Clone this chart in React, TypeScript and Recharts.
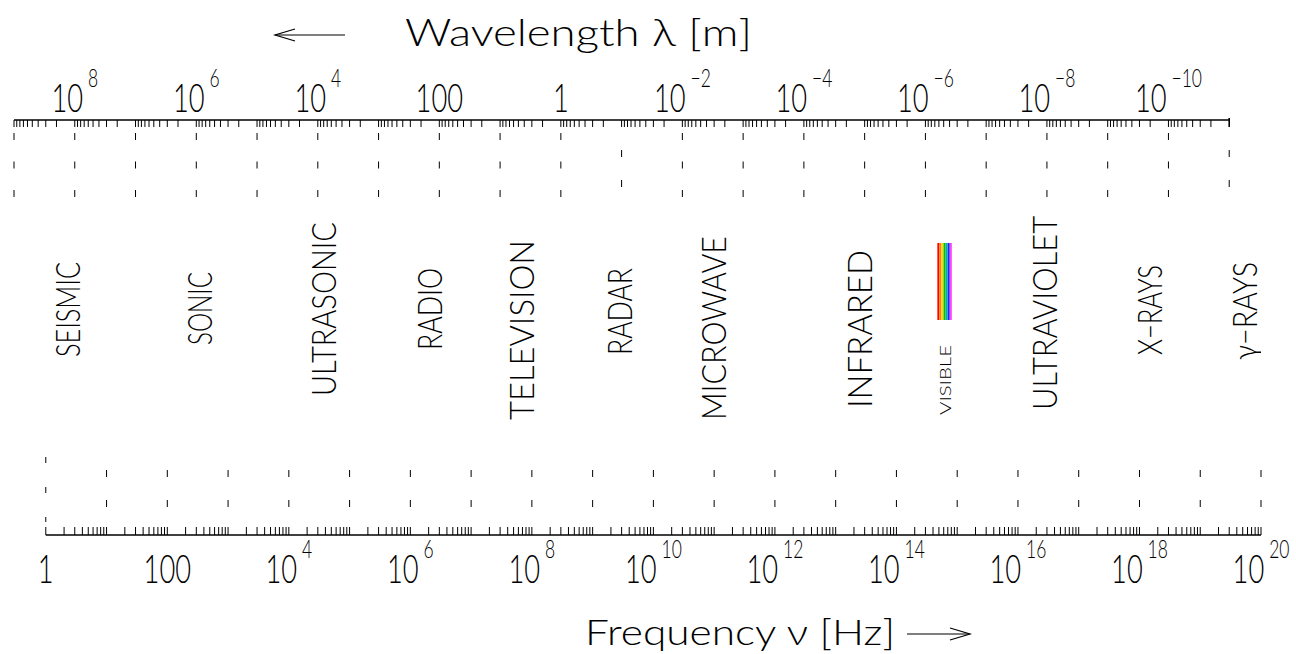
import { ComposedChart, XAxis, YAxis, Scatter, ReferenceLine } from 'recharts'

const C = 2.998e8 // speed of light, m/s

// frequency axis (Hz), bottom
const NU_MIN = C / 1e9
const NU_MAX = 1e20
const NU_LABEL_EXP = [0, 2, 4, 6, 8, 10, 12, 14, 16, 18, 20]

// wavelength axis (m), top
const LAMBDA_FIRST = 1e9
const LAMBDA_LAST = 1e-11
const LAMBDA_LABEL_EXP = [8, 6, 4, 2, 0, -2, -4, -6, -8, -10]
const LAMBDA_SHIFTED = [1e-1, 1e-11]

// spectrum bands, placed at a representative frequency
const BANDS = ['SEISMIC', 'SONIC', 'ULTRASONIC', 'RADIO', 'TELEVISION', 'RADAR', 'MICROWAVE', 'INFRARED', 'VISIBLE', 'ULTRAVIOLET', 'X\u2212RAYS', '\u03b3\u2212RAYS']
const BAND_NU = [2.3, 345, 3.8e4, 2.1e6, 6.9e7, 2.8e9, 1.0e11, 2.5e13, 6.3e14, 2.8e16, 1.5e18, 5.5e19]

// visible light stripes
const VISIBLE_NU = [4.9e14, 5.3e14, 5.75e14, 6.2e14, 6.7e14, 7.25e14, 7.85e14]
const VISIBLE_COLORS = ['#ff0000', '#ff8000', '#e8e000', '#00c000', '#00b0b0', '#2020ff', '#ff40ff']

// layout: plot runs from y=120 (top axis) to y=535 (bottom axis)
const PLOT_H = 415
const frac = (px: number) => (535 - px) / PLOT_H
// vertical extent [top, bottom] of each rotated band label, in px
const LABEL_SPAN: Record<string, [number, number]> = {
  SEISMIC: [262, 357],
  SONIC: [272, 345],
  ULTRASONIC: [222, 396],
  RADIO: [268, 350],
  TELEVISION: [240, 420],
  RADAR: [268, 355],
  MICROWAVE: [236, 420],
  INFRARED: [250, 408],
  VISIBLE: [345, 415],
  ULTRAVIOLET: [216, 410],
  'X\u2212RAYS': [265, 355],
  '\u03b3\u2212RAYS': [262, 360],
}
const RAINBOW_TOP = 243
const RAINBOW_BOTTOM = 320

const FONT = 'Lato, "DejaVu Sans", sans-serif'
const SQUEEZE = 0.7

const decadeTicks = (lo: number, hi: number) => {
  const out: number[] = []
  for (let e = lo; e < hi; e++) for (let m = 1; m <= 9; m++) out.push(m * Math.pow(10, e))
  out.push(Math.pow(10, hi))
  return out
}
const NU_TICKS = decadeTicks(0, 20)
const LAMBDA_TICKS = decadeTicks(-11, 9)

const expOf = (v: number) => {
  const e = Math.log10(v)
  return Math.abs(e - Math.round(e)) < 1e-6 ? Math.round(e) : null
}

const PowerLabel = ({ x, y, exp }: { x: number; y: number; exp: number }) => {
  const main = exp === 0 ? '1' : exp === 2 ? '100' : '10'
  const sup = exp === 0 || exp === 2 ? null : String(exp).replace('-', '\u2212')
  return (
    <g transform={`translate(${x},${y}) scale(${SQUEEZE},1)`}>
      <text x={0} y={0} textAnchor="middle" fontFamily={FONT} fontWeight={300} fontSize={39} fill="#000">
        {main}
        {sup && (
          <tspan dx={7} dy={-25} fontSize={25}>
            {sup}
          </tspan>
        )}
      </text>
    </g>
  )
}

const NuTick = (props: any) => {
  const { x, y, payload } = props
  const e = expOf(payload.value)
  return (
    <g>
      <line x1={x} x2={x} y1={y} y2={y - 8} stroke="#000" />
      {e !== null && e === 0 && (
        <line x1={x} x2={x} y1={y - 78} y2={y - 13} stroke="#000" strokeDasharray="6 24" />
      )}
      {e !== null && e !== 0 && (
        <line x1={x} x2={x} y1={y - 65} y2={y - 28} stroke="#000" strokeDasharray="7 23" />
      )}
      {e !== null && NU_LABEL_EXP.includes(e) && <PowerLabel x={x} y={y + 48} exp={e} />}
    </g>
  )
}

const LambdaTick = (props: any) => {
  const { x, y, payload } = props
  const e = expOf(payload.value)
  const shifted = e !== null && LAMBDA_SHIFTED.some((v) => expOf(v) === e)
  const last = e === Math.round(Math.log10(LAMBDA_LAST))
  return (
    <g>
      <line x1={x} x2={x} y1={last ? y - 2 : y} y2={y + 7} stroke="#000" strokeWidth={last ? 1.6 : 1} />
      {e !== null && !shifted && (
        <line x1={x} x2={x} y1={y + 13} y2={y + 77} stroke="#000" strokeDasharray="7 21.5" />
      )}
      {shifted && <line x1={x} x2={x} y1={y + 30} y2={y + 67} stroke="#000" strokeDasharray="7 23" />}
      {e !== null && LAMBDA_LABEL_EXP.includes(e) && <PowerLabel x={x} y={y - 8} exp={e} />}
    </g>
  )
}

const BandLabel = (props: any) => {
  const { cx, cy, payload } = props
  const [top, bottom] = LABEL_SPAN[payload.name]
  const small = payload.name === 'VISIBLE'
  const fs = small ? 16 : 34
  return (
    <g transform={`translate(${cx},${cy}) rotate(-90)`}>
      <text
        x={0}
        y={fs * 0.36}
        textAnchor="middle"
        textLength={bottom - top}
        lengthAdjust="spacingAndGlyphs"
        fontFamily={FONT}
        fontWeight={300}
        fontSize={fs}
        fill="#000"
      >
        {payload.name}
      </text>
    </g>
  )
}

const TopTitle = () => (
  <g>
    <line x1={275} x2={345} y1={35} y2={35} stroke="#000" strokeWidth={1.2} />
    <polyline points="295,29 275,35 295,41" fill="none" stroke="#000" strokeWidth={1.2} />
    <text x={405} y={46} fontFamily={FONT} fontWeight={300} fontSize={38} textLength={347} lengthAdjust="spacingAndGlyphs" fill="#000">
      Wavelength λ [m]
    </text>
  </g>
)

const BottomTitle = () => (
  <g>
    <text x={585} y={645} fontFamily={FONT} fontWeight={300} fontSize={36} textLength={310} lengthAdjust="spacingAndGlyphs" fill="#000">
      Frequency ν [Hz]
    </text>
    <line x1={907} x2={970} y1={634} y2={634} stroke="#000" strokeWidth={1.2} />
    <polyline points="950,628 970,634 950,640" fill="none" stroke="#000" strokeWidth={1.2} />
  </g>
)

const Nothing = () => <g />

export default function App() {
  const bandData = BANDS.map((name, i) => {
    const [top, bottom] = LABEL_SPAN[name]
    return { name, nu: BAND_NU[i], mid: frac((top + bottom) / 2) }
  })
  const lambdaAnchors = LAMBDA_LABEL_EXP.map((e) => ({ lambda: Math.pow(10, e), mid: 1 }))

  return (
    <div style={{ position: 'absolute', left: 0, top: 0, background: '#fff' }}>
      <ComposedChart width={1296} height={654} margin={{ top: 60, bottom: 59, left: 14, right: 35 }}>
        <XAxis
          xAxisId="nu"
          dataKey="nu"
          type="number"
          scale="log"
          domain={[NU_MIN, NU_MAX]}
          allowDataOverflow
          ticks={NU_TICKS}
          interval={0}
          orientation="bottom"
          height={60}
          axisLine={false}
          tickLine={false}
          tickSize={0}
          tickMargin={0}
          tick={<NuTick />}
          label={<BottomTitle />}
        />
        <XAxis
          xAxisId="lambda"
          dataKey="lambda"
          type="number"
          scale="log"
          reversed
          domain={[C / NU_MAX, LAMBDA_FIRST]}
          allowDataOverflow
          ticks={LAMBDA_TICKS}
          interval={0}
          orientation="top"
          height={60}
          axisLine={false}
          tickLine={false}
          tickSize={0}
          tickMargin={0}
          tick={<LambdaTick />}
          label={<TopTitle />}
        />
        <YAxis dataKey="mid" type="number" domain={[0, 1]} hide />
        <ReferenceLine
          xAxisId="nu"
          segment={[{ x: 1, y: 0 }, { x: NU_MAX, y: 0 }]}
          stroke="#000"
          strokeWidth={1.4}
          ifOverflow="visible"
        />
        <ReferenceLine
          xAxisId="lambda"
          segment={[{ x: LAMBDA_FIRST, y: 1 }, { x: LAMBDA_LAST, y: 1 }]}
          stroke="#000"
          strokeWidth={1.4}
          ifOverflow="visible"
        />
        {VISIBLE_NU.map((nu, i) => (
          <ReferenceLine
            key={nu}
            xAxisId="nu"
            segment={[{ x: nu, y: frac(RAINBOW_TOP) }, { x: nu, y: frac(RAINBOW_BOTTOM) }]}
            stroke={VISIBLE_COLORS[i]}
            strokeWidth={2}
            ifOverflow="visible"
          />
        ))}
        <Scatter xAxisId="lambda" data={lambdaAnchors} dataKey="mid" shape={<Nothing />} isAnimationActive={false} />
        <Scatter xAxisId="nu" data={bandData} dataKey="mid" shape={<BandLabel />} isAnimationActive={false} />
      </ComposedChart>
    </div>
  )
}
